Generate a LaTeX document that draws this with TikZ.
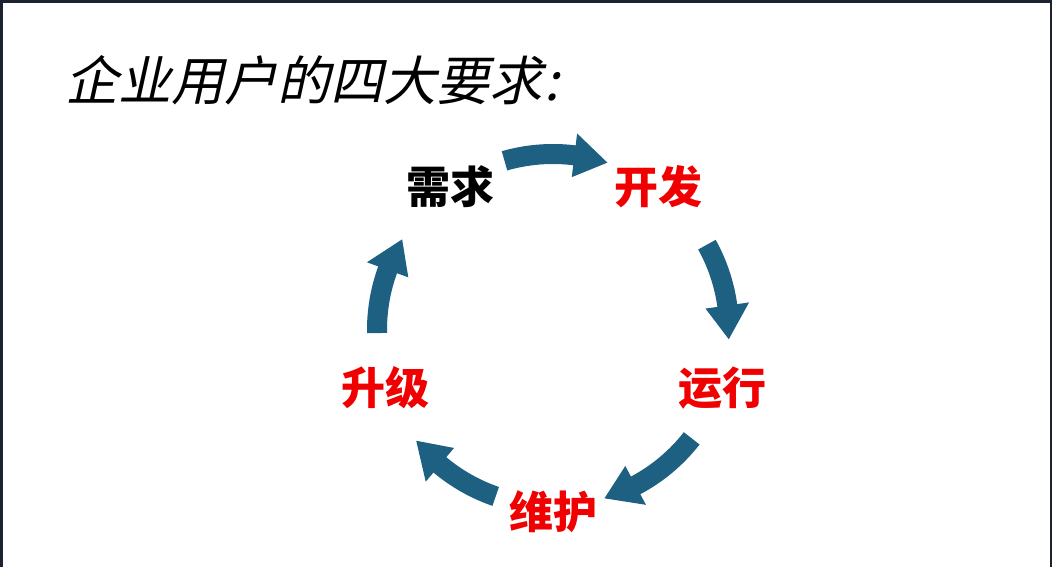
\documentclass[tikz,border=0pt]{standalone}
\usepackage{fontspec}
\newfontfamily\cjk{Noto Sans CJK SC}
\newfontfamily\cjkslant[FakeSlant=0.22]{Noto Sans CJK SC}
\begin{document}
\begin{tikzpicture}[x=1pt,y=1pt,
  lbl/.style={font=\cjk\bfseries\fontsize{44}{48}\selectfont,inner sep=0pt},
  red/.style={text={rgb,255:red,240;green,0;blue,0}}]
\definecolor{arrc}{RGB}{30,96,130}
\definecolor{edge}{RGB}{28,34,48}
\useasboundingbox (0,-567) rectangle (1052,0);
\fill[white] (0,-567) rectangle (1052,0);
\fill[edge] (0,-3) rectangle (1052,0);
\fill[edge] (0,-567) rectangle (3,0);
\fill[edge] (1050,-567) rectangle (1052,0);
\node[anchor=west,inner sep=0pt,font=\cjkslant\fontsize{53}{57}\selectfont] (title) at (65,-80) {企业用户的四大要求\hspace{2pt}:};
\node[lbl] (xq) at (450,-187) {需求};
\node[lbl,red] (kf) at (658,-187) {开发};
\node[lbl,red] (yx) at (722,-388) {运行};
\node[lbl,red] (wh) at (553,-512) {维护};
\node[lbl,red] (sj) at (385,-388) {升级};
\begin{scope}[shift={(553,-330)}]
\def\r{176}
\foreach \s/\h/\t in {106/83/72, 29/8/-3, -38/-62/-73, -109/-130/-141, 181/160/149}{
  \fill[arrc] ({\s}:{\r+10}) arc[start angle=\s,end angle=\h,radius=\r+10]
    -- ({\h}:{\r+22}) -- ({\t}:{\r}) -- ({\h}:{\r-22}) -- ({\h}:{\r-10})
    arc[start angle=\h,end angle=\s,radius=\r-10] -- cycle;
}
\end{scope}
\end{tikzpicture}
\end{document}
